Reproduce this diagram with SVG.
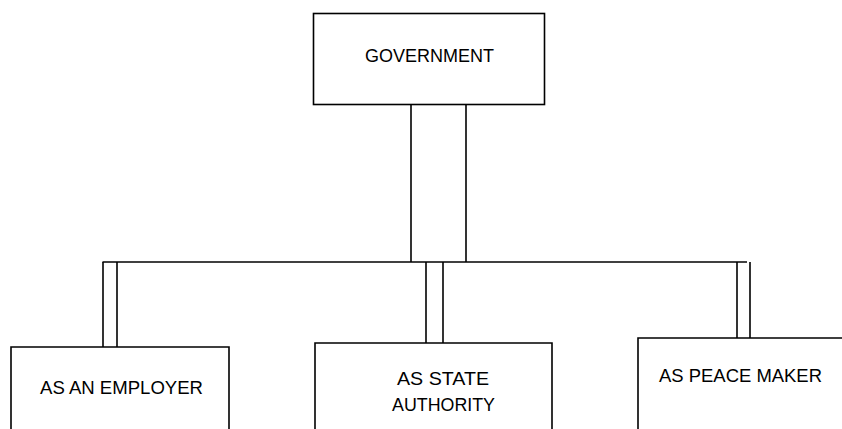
<svg xmlns="http://www.w3.org/2000/svg" width="842" height="429" viewBox="0 0 842 429">
<style>
.box{fill:#fff;stroke:#000;stroke-width:1.6}
.ln{stroke:#000;stroke-width:1.6;fill:none}
.t{font-family:"Liberation Sans",Arial,sans-serif;font-size:19.2px;fill:#000}
</style>
<rect width="842" height="429" fill="#fff"/>
<g id="connectors">
<line class="ln" x1="411" y1="105" x2="411" y2="262"/>
<line class="ln" x1="466" y1="105" x2="466" y2="262"/>
<line class="ln" x1="102.5" y1="262" x2="747" y2="262"/>
<line class="ln" x1="103" y1="262" x2="103" y2="347"/>
<line class="ln" x1="117" y1="262" x2="117" y2="347"/>
<line class="ln" x1="426" y1="262" x2="426" y2="343"/>
<line class="ln" x1="443" y1="262" x2="443" y2="343"/>
<line class="ln" x1="737" y1="262" x2="737" y2="338"/>
<line class="ln" x1="750" y1="262" x2="750" y2="338"/>
</g>
<g id="government">
<rect class="box" x="313.5" y="13.5" width="231" height="91"/>
<text class="t" x="365" y="62" textLength="129" lengthAdjust="spacingAndGlyphs">GOVERNMENT</text>
</g>
<g id="employer">
<path class="box" d="M11,440 V347 H229 V440"/>
<text class="t" x="40" y="394" textLength="163" lengthAdjust="spacingAndGlyphs">AS AN EMPLOYER</text>
</g>
<g id="state-authority">
<path class="box" d="M315,440 V343 H552 V440"/>
<text class="t" x="397" y="385" textLength="92" lengthAdjust="spacingAndGlyphs">AS STATE</text>
<text class="t" x="392" y="411" textLength="103" lengthAdjust="spacingAndGlyphs">AUTHORITY</text>
</g>
<g id="peace-maker">
<path class="box" d="M638,440 V338 H850"/>
<text class="t" x="659" y="382" textLength="163" lengthAdjust="spacingAndGlyphs">AS PEACE MAKER</text>
</g>
</svg>
